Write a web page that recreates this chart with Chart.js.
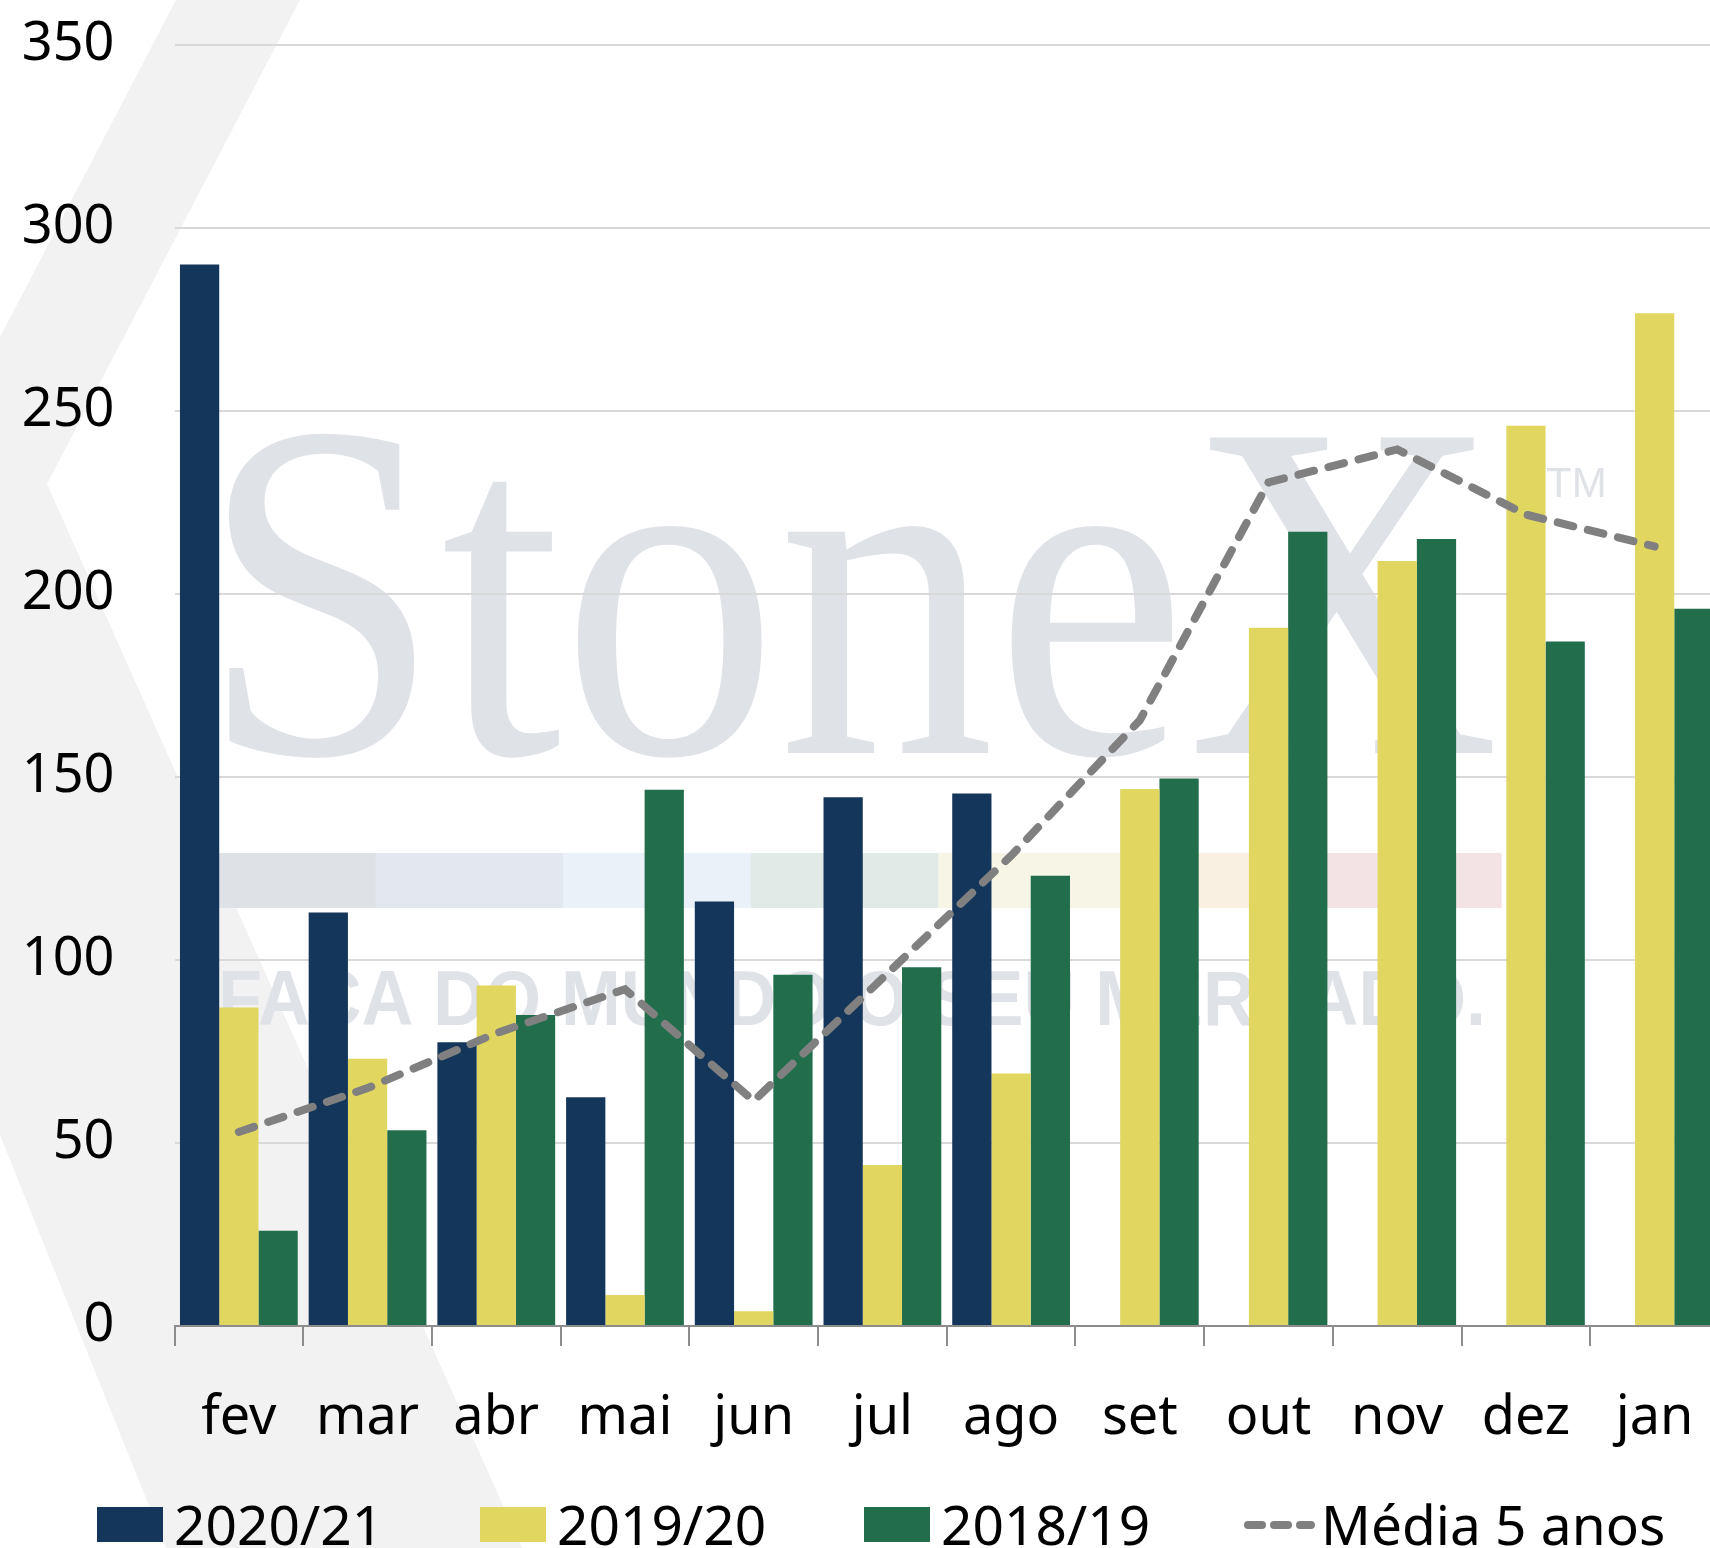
<!DOCTYPE html>
<html>
<head>
<meta charset="utf-8">
<title>Embarques mensais</title>
<script src="https://cdn.jsdelivr.net/npm/chart.js@4.4.0/dist/chart.umd.min.js"></script>
<style>
  html, body { margin: 0; padding: 0; background: #fff; }
  body { width: 1710px; height: 1548px; overflow: hidden; position: relative; font-family: "Noto Sans", sans-serif; }
  #wrap { position: absolute; left: 0; top: 0; width: 1720px; height: 1548px; }
  #legend { position: absolute; left: 0; top: 1493px; width: 1710px; height: 62px; }
  .item { position: absolute; top: 0; height: 62px; line-height: 62px; font-size: 55px; color: #000; white-space: nowrap; }
  .item .box { position: absolute; left: 0; top: 14px; width: 66px; height: 35px; }
  .item svg { position: absolute; left: 0; top: 0; }
</style>
</head>
<body>
<div id="wrap"><canvas id="chart" width="1720" height="1548"></canvas></div>
<div id="legend"></div>
<script>
// months on the x axis
const months = ['fev', 'mar', 'abr', 'mai', 'jun', 'jul', 'ago', 'set', 'out', 'nov', 'dez', 'jan'];

// series values
const s2020 = [290, 113, 77.5, 62.5, 116, 144.5, 145.5, null, null, null, null, null];
const s2019 = [87, 73, 93, 8.5, 4, 44, 69, 146.7, 190.8, 209, 246, 276.7];
const s2018 = [26, 53.5, 85, 146.5, 96, 98, 123, 149.6, 217, 215, 187, 196];
const media5 = [53, 65, 80, 92, 61.5, 95, 128.5, 165.5, 230.5, 239.5, 221.7, 213];

const yMax = 350;
const yStep = 50;

const navy = '#15365b';
const yellow = '#e0d660';
const green = '#216d4c';
const grey = '#808080';

// StoneX watermark behind the plot
const watermark = {
  id: 'watermark',
  beforeDraw(chart) {
    const c = chart.ctx;
    c.save();
    // grey chevron on the left
    c.fillStyle = '#f2f2f2';
    c.beginPath();
    c.moveTo(176, 0);
    c.lineTo(300, 0);
    c.lineTo(47, 484);
    c.lineTo(522, 1548);
    c.lineTo(166, 1548);
    c.lineTo(0, 1135);
    c.lineTo(0, 337);
    c.closePath();
    c.fill();

    // logo word
    c.fillStyle = '#dfe2e7';
    c.textBaseline = 'alphabetic';
    c.font = '482px "Liberation Serif", serif';
    c.fillText('StoneX', 200, 753, 1300);
    c.font = '42px "Liberation Sans", sans-serif';
    c.fillText('TM', 1546, 497);

    // coloured strip
    const strip = ['#dee1e6', '#e3e8f0', '#ebf1f8', '#e1eae6', '#f7f6e6', '#faf0e1', '#f3e3e4'];
    strip.forEach((col, i) => {
      c.fillStyle = col;
      c.fillRect(188 + i * 187.6, 853, 188, 55);
    });

    // tagline
    c.fillStyle = '#dfe2e7';
    c.font = 'bold 78px "Liberation Sans", sans-serif';
    c.fillText('FAÇA DO MUNDO O SEU MERCADO.', 218, 1025, 1268);
    c.restore();
  }
};

const yFont = { family: '"Noto Sans", sans-serif', size: 54 };
// tall line height pushes the month labels down without adding side padding
const xFont = { family: '"Noto Sans", sans-serif', size: 54, lineHeight: 2.68 };

const chart = new Chart(document.getElementById('chart'), {
  type: 'bar',
  data: {
    labels: months,
    datasets: [
      { type: 'line', label: 'Média 5 anos', data: media5, borderColor: grey, borderWidth: 8,
        borderDash: [16, 15], borderCapStyle: 'round', pointRadius: 0, pointHoverRadius: 0, tension: 0, fill: false, order: 0 },
      { label: '2020/21', data: s2020, backgroundColor: navy, order: 1 },
      { label: '2019/20', data: s2019, backgroundColor: yellow, order: 1 },
      { label: '2018/19', data: s2018, backgroundColor: green, order: 1 }
    ]
  },
  options: {
    responsive: false,
    animation: false,
    devicePixelRatio: 1,
    layout: { padding: { left: 0, right: 1, top: 45, bottom: 0 } },
    datasets: { bar: { categoryPercentage: 0.915, barPercentage: 1.0 } },
    plugins: { legend: { display: false }, tooltip: { enabled: false } },
    scales: {
      x: {
        grid: { display: true, drawOnChartArea: false, drawTicks: true, tickLength: 20, color: '#8c8c8c', lineWidth: 2, offset: true },
        border: { display: true, color: '#8c8c8c', width: 2 },
        ticks: { color: '#000', font: xFont, padding: 0, maxRotation: 0, autoSkip: false },
        afterFit(scale) { scale.height = 222; }
      },
      y: {
        min: 0,
        max: yMax,
        grid: { color: '#d9d9d9', lineWidth: 2, drawTicks: true, tickLength: 60, tickColor: 'rgba(0,0,0,0)' },
        border: { display: false },
        ticks: { stepSize: yStep, color: '#000', font: yFont, padding: 0 },
        afterFit(scale) { scale.width = 174.5; }
      }
    }
  },
  plugins: [watermark]
});

// legend below the chart, built from the datasets
const legendLeft = { '2020/21': 97, '2019/20': 480, '2018/19': 864, 'Média 5 anos': 1243 };
const legend = document.getElementById('legend');
['2020/21', '2019/20', '2018/19', 'Média 5 anos'].forEach(name => {
  const ds = chart.data.datasets.find(d => d.label === name);
  const item = document.createElement('div');
  item.className = 'item';
  item.style.left = legendLeft[name] + 'px';
  if (ds.type === 'line') {
    item.innerHTML = '<svg width="74" height="62"><line x1="5" y1="32" x2="68" y2="32" stroke="' + ds.borderColor +
      '" stroke-width="8" stroke-linecap="round" stroke-dasharray="14 12"/></svg>';
    item.style.paddingLeft = '78px';
  } else {
    item.innerHTML = '<span class="box" style="background:' + ds.backgroundColor + '"></span>';
    item.style.paddingLeft = '77px';
  }
  item.appendChild(document.createTextNode(name));
  legend.appendChild(item);
});
</script>
</body>
</html>
